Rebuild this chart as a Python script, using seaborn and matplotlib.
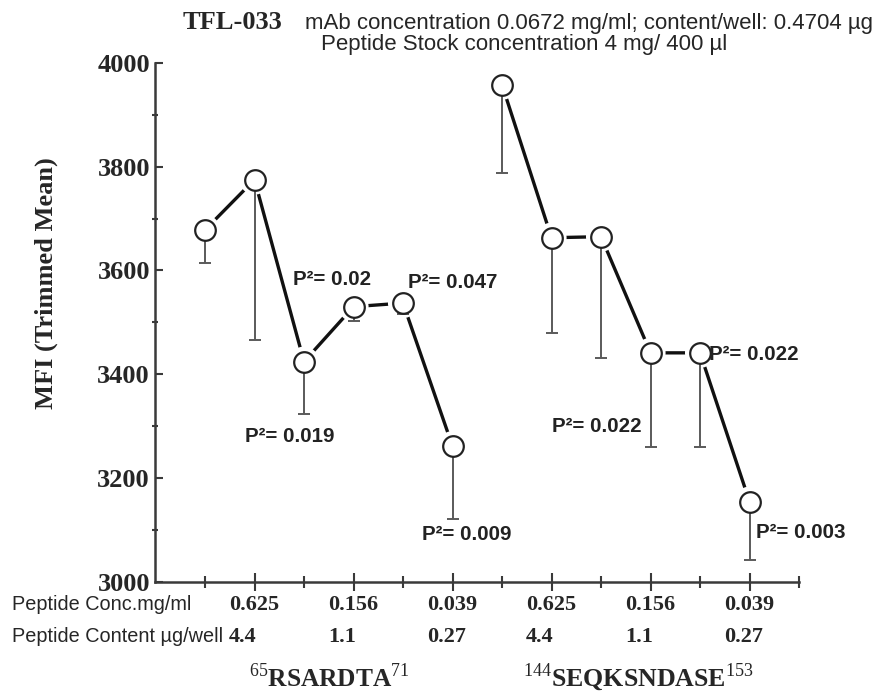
import matplotlib
matplotlib.use("Agg")
import matplotlib.pyplot as plt
import numpy as np
import pandas as pd
import seaborn as sns
from matplotlib.ticker import FixedLocator, MultipleLocator
from matplotlib.transforms import blended_transform_factory

# data
POSITIONS = list(range(1, 13))
PEPTIDE = ["RSARDTA"] * 6 + ["SEQKSNDASE"] * 6
MFI = [3678, 3775, 3424, 3530, 3537, 3261, 3958, 3663, 3665, 3441, 3441, 3154]
ERR_LOW = [63, 309, 101, 27, 21, 141, 171, 184, 233, 181, 181, 113]

LABEL_POS = [2, 4, 6, 8, 10, 12]
CONC = ["0.625", "0.156", "0.039", "0.625", "0.156", "0.039"]
CONTENT = ["4.4", "1.1", "0.27", "4.4", "1.1", "0.27"]

P_VALUES = ["0.02", "0.047", "0.019", "0.009", "0.022", "0.022", "0.003"]
P_X = [2.78, 5.10, 1.81, 5.38, 11.18, 8.01, 12.13]
P_Y = [3572, 3566, 3269, 3080, 3427, 3288, 3084]

df = pd.DataFrame({"pos": POSITIONS, "mfi": MFI, "err": ERR_LOW, "peptide": PEPTIDE})

sns.set_style("ticks")
plt.rcParams["font.family"] = ["Liberation Serif", "DejaVu Serif"]
plt.rcParams["mathtext.fontset"] = "custom"
plt.rcParams["mathtext.rm"] = "Liberation Serif"
plt.rcParams["mathtext.bf"] = "Liberation Serif:bold"

SANS = ["Liberation Sans", "DejaVu Sans"]
SERIF = ["Liberation Serif", "DejaVu Serif"]
SPINE = "#3a3a3a"

fig = plt.figure(figsize=(8.8, 6.96), dpi=100)
ax = fig.add_axes([0.1767, 0.1645, 0.7313, 0.745])

# connecting lines, one per peptide
sns.lineplot(data=df, x="pos", y="mfi", hue="peptide", palette=["#111111", "#111111"],
             linewidth=2.4, legend=False, ax=ax, zorder=1)
# white halo so the lines stop short of the circles
sns.scatterplot(data=df, x="pos", y="mfi", s=470, color="white", edgecolor="none",
                legend=False, ax=ax, zorder=3)
ax.errorbar(df["pos"], df["mfi"], yerr=[df["err"], np.zeros(len(df))], fmt="none",
            ecolor="#5a5a5a", elinewidth=1.4, capsize=4, capthick=1.4, zorder=4)
sns.scatterplot(data=df, x="pos", y="mfi", s=220, color="white", edgecolor="#222222",
                linewidth=1.6, legend=False, ax=ax, zorder=5)

ax.set_xlim(0, 13)
ax.set_ylim(3000, 4000)
sns.despine(ax=ax)
for side in ["left", "bottom"]:
    ax.spines[side].set_linewidth(1.8)
    ax.spines[side].set_color(SPINE)

ax.yaxis.set_major_locator(MultipleLocator(200))
ax.yaxis.set_minor_locator(MultipleLocator(100))
ax.tick_params(axis="y", which="major", direction="in", length=6, width=1.5,
               color=SPINE, labelsize=19, pad=4)
ax.tick_params(axis="y", which="minor", direction="inout", length=5, width=1.5, color=SPINE)
ax.xaxis.set_major_locator(FixedLocator(LABEL_POS))
ax.xaxis.set_minor_locator(FixedLocator([1, 3, 5, 7, 9, 11, 13]))
ax.tick_params(axis="x", which="major", direction="inout", length=13, width=1.5,
               color=SPINE, labelbottom=False)
ax.tick_params(axis="x", which="minor", direction="inout", length=8.5, width=1.5, color=SPINE)
for lab in ax.get_yticklabels():
    lab.set_fontweight("bold")
    lab.set_family(SERIF)

ax.set_xlabel("")
ax.set_ylabel("MFI (Trimmed Mean)", fontsize=19, fontweight="bold", family=SERIF)
ax.yaxis.set_label_coords(-0.1515, 0.575)

# p-value annotations
for x, y, p in zip(P_X, P_Y, P_VALUES):
    ax.text(x, y, "P\u00b2= " + p, fontsize=14.8, fontweight="bold", family=SANS,
            ha="left", va="baseline", color="#222222", zorder=6)

# rows of concentration / content under the axis
tr = blended_transform_factory(ax.transData, fig.transFigure)
fig.text(12 / 880, 1 - 605 / 696, "Peptide Conc.mg/ml", fontsize=14.3, family=SANS,
         va="center", ha="left")
fig.text(12 / 880, 1 - 637 / 696, "Peptide Content \u00b5g/well", fontsize=14.3, family=SANS,
         va="center", ha="left")
for x, c, w in zip(LABEL_POS, CONC, CONTENT):
    ax.text(x - 0.52, 1 - 605 / 696, c, transform=tr, fontsize=16, fontweight="bold",
            family=SERIF, ha="left", va="center", clip_on=False)
    ax.text(x - 0.52, 1 - 637 / 696, w, transform=tr, fontsize=16, fontweight="bold",
            family=SERIF, ha="left", va="center", clip_on=False)

# peptide sequence names
ax.text(1.88, 9 / 696, r"${}^{65}\mathbf{RSARDTA}^{71}$", transform=tr, fontsize=18.3,
        ha="left", va="baseline", clip_on=False)
ax.text(7.42, 9 / 696, r"${}^{144}\mathbf{SEQKSNDASE}^{153}$", transform=tr, fontsize=18.6,
        ha="left", va="baseline", clip_on=False)

# title lines
fig.text(183 / 880, 1 - 29 / 696, "TFL-033", fontsize=19, fontweight="bold", family=SERIF,
         ha="left", va="baseline")
fig.text(305 / 880, 1 - 29 / 696, "mAb concentration 0.0672 mg/ml; content/well: 0.4704 \u00b5g",
         fontsize=16, family=SANS, ha="left", va="baseline")
fig.text(524 / 880, 1 - 50 / 696, "Peptide Stock concentration 4 mg/ 400 \u00b5l",
         fontsize=16, family=SANS, ha="center", va="baseline")

fig.savefig("out.png", dpi=100)
